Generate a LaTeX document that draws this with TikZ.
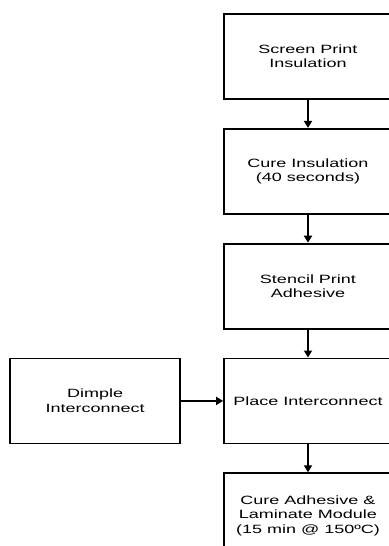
\documentclass[tikz,border=0pt]{standalone}
\usepackage{fontspec}
\setmainfont{Liberation Sans}[FakeStretch=1.5]
\usetikzlibrary{arrows.meta,positioning}

\begin{document}
\begin{tikzpicture}[
        font=\fontsize{6}{7.2}\selectfont,
        node distance=14pt and 21pt,
        flow/.style={draw, line width=0.9pt, align=center, minimum width=84pt, minimum height=42.5pt, inner sep=1pt},
        line/.style={-{Triangle[length=3.5pt,width=4pt]}, line width=0.9pt}
    ]
        \useasboundingbox (0,0) rectangle (194pt,-273pt);
        \node[flow] (screen) at (154pt,-28.25pt) {Screen Print\\Insulation};
        \node[flow, below=of screen] (cure) {Cure Insulation\\(40 seconds)};
        \node[flow, below=of cure] (stencil) {Stencil Print\\Adhesive};
        \node[flow, below=of stencil] (place) {Place Interconnect};
        \node[flow, minimum width=85pt, left=of place] (dimple) {Dimple\\Interconnect};
        \node[flow, below=of place] (laminate) {Cure Adhesive \&\\Laminate Module\\(15 min @ 150ºC)};

        \draw[line] (screen) -- (cure);
        \draw[line] (cure) -- (stencil);
        \draw[line] (stencil) -- (place);
        \draw[line] (dimple) -- (place);
        \draw[line] (place) -- (laminate);
    \end{tikzpicture}
\end{document}
